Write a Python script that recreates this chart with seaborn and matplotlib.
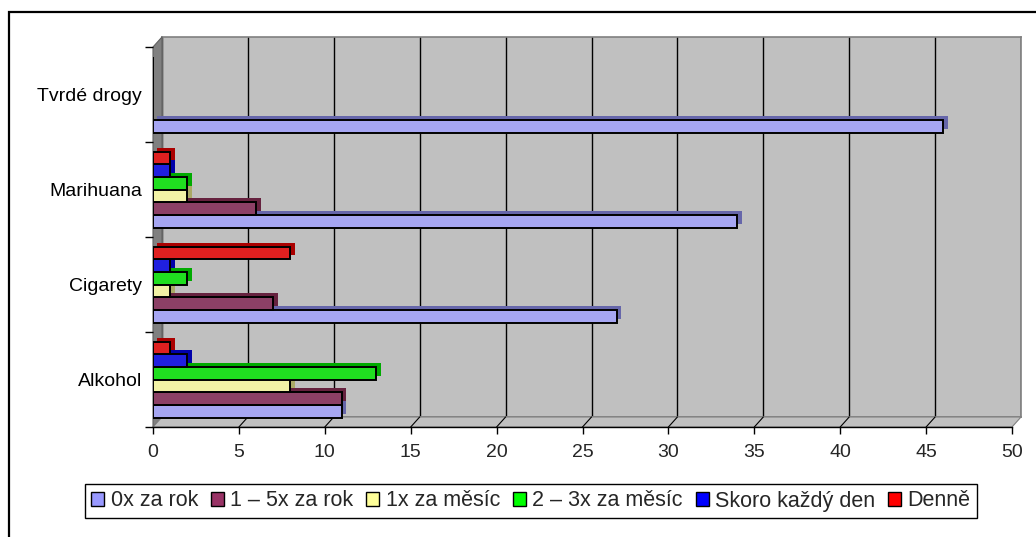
import matplotlib
matplotlib.use("Agg")
import matplotlib.pyplot as plt
import matplotlib.patheffects as pe
from matplotlib.patches import Polygon, Rectangle, Patch
from matplotlib.lines import Line2D
import seaborn as sns
import pandas as pd
import numpy as np

categories = ["Alkohol", "Cigarety", "Marihuana", "Tvrdé drogy"]
series = ["0x za rok", "1 – 5x za rok", "1x za měsíc", "2 – 3x za měsíc", "Skoro každý den", "Denně"]
v_0x_rok = [11, 27, 34, 46]
v_1_5x_rok = [11, 7, 6, 0]
v_1x_mesic = [8, 1, 2, 0]
v_2_3x_mesic = [13, 2, 2, 0]
v_skoro_denne = [2, 1, 1, 0]
v_denne = [1, 8, 1, 0]
colors = ["#9999FF", "#993366", "#FFFF99", "#00FF00", "#0000FF", "#FF0000"]
side_colors = ["#6666AA", "#66223F", "#AAAA66", "#00AA00", "#0000AA", "#AA0000"]
x_ticks = [0, 5, 10, 15, 20, 25, 30, 35, 40, 45, 50]

values = [v_0x_rok, v_1_5x_rok, v_1x_mesic, v_2_3x_mesic, v_skoro_denne, v_denne]
rows = []
for s, vals in zip(series, values):
    for c, v in zip(categories, vals):
        rows.append({"kategorie": c, "serie": s, "hodnota": v})
df = pd.DataFrame(rows)

sns.set_theme(style="white")
plt.rcParams["font.family"] = ["Liberation Sans", "DejaVu Sans"]

W, H = 1036, 537
fig = plt.figure(figsize=(W / 100, H / 100), dpi=100)
fig.patch.set_facecolor("white")

def fx(px):
    return px / W

def fy(py):
    return 1 - py / H

# geometry (pixels)
fl, fr, ft, fb = 153, 1012, 47, 427     # front plane
dx, dy = 9, 10                          # depth offset
bl, br, bt, bb = fl + dx, fr + dx, ft - dy, fb - dy  # back wall

# outer border
fig.patches.append(Rectangle((fx(9), -0.2), 1.2, fy(12) + 0.2, transform=fig.transFigure,
                             fill=False, edgecolor="black", linewidth=1.6, zorder=0.5, clip_on=False))

# back wall
axb = fig.add_axes([fx(bl), fy(bb), fx(br - bl), (bb - bt) / H])
axb.set_facecolor("#C0C0C0")
axb.set_xlim(0, 50)
axb.set_ylim(0, 1)
axb.set_xticks(x_ticks)
axb.set_yticks([])
axb.tick_params(axis="x", length=0, labelbottom=False)
axb.grid(axis="x", color="black", linewidth=1.0)
for sp in axb.spines.values():
    sp.set_color("#808080")
    sp.set_linewidth(1.2)
axb.set_zorder(0)

# left wall and floor
fig.patches.append(Polygon([(fx(fl), fy(fb)), (fx(fl), fy(ft)), (fx(bl), fy(bt)), (fx(bl), fy(bb))],
                           closed=True, transform=fig.transFigure, facecolor="#808080",
                           edgecolor="#606060", linewidth=0.8, zorder=1))
fig.patches.append(Polygon([(fx(fl), fy(fb)), (fx(bl), fy(bb)), (fx(br), fy(bb)), (fx(fr), fy(fb))],
                           closed=True, transform=fig.transFigure, facecolor="#C0C0C0",
                           edgecolor="#808080", linewidth=0.8, zorder=1))
for t in x_ticks[1:-1]:
    xpx = fl + (fr - fl) * t / 50
    fig.lines.append(Line2D([fx(xpx), fx(xpx + dx)], [fy(fb), fy(bb)], transform=fig.transFigure,
                            color="black", linewidth=0.8, zorder=1.1))

# front axes with bars
ax = fig.add_axes([fx(fl), fy(fb), fx(fr - fl), (fb - ft) / H])
ax.set_zorder(2)
ax.patch.set_alpha(0)
sns.barplot(data=df, y="kategorie", x="hodnota", hue="serie", order=categories,
            hue_order=series, palette=colors, orient="h", width=0.8, dodge=True,
            edgecolor="black", linewidth=1.4, legend=False, ax=ax)
for i, cont in enumerate(ax.containers):
    for bar in cont:
        bar.set_path_effects([pe.SimplePatchShadow(offset=(3.2, 2.8), shadow_rgbFace=side_colors[i],
                                                   alpha=1.0), pe.Normal()])
ax.set_xlim(0, 50)
ax.set_ylim(-0.5, 3.5)
ax.set_xticks(x_ticks)
ax.set_xticklabels([str(t) for t in x_ticks])
ax.set_xlabel("")
ax.set_ylabel("")
ax.set_yticks(range(len(categories)))
ax.set_yticklabels(categories)
ax.set_yticks(np.arange(-0.5, 4, 1), minor=True)
ax.tick_params(axis="y", which="major", length=0, pad=8, labelsize=14, colors="black")
ax.tick_params(axis="y", which="minor", length=6, width=1, color="black", direction="out", left=True)
ax.tick_params(axis="x", length=5, width=1, color="black", direction="out", pad=7,
               labelsize=14, bottom=True)
for s in ["top", "right"]:
    ax.spines[s].set_visible(False)
ax.spines["left"].set_visible(False)
ax.spines["bottom"].set_color("black")
ax.spines["bottom"].set_linewidth(1.0)
ax.grid(False)

handles = [Patch(facecolor=c, edgecolor="black", linewidth=1.0, label=s) for c, s in zip(colors, series)]
fig.legend(handles=handles, loc="center", bbox_to_anchor=(fx(531), fy(501)), ncol=6, frameon=True,
           fancybox=False, edgecolor="black", fontsize=15.5, handlelength=0.6, handleheight=0.6,
           handletextpad=0.3, columnspacing=0.6, borderpad=0.3, framealpha=1)
leg = fig.legends[0]
leg.get_frame().set_linewidth(1.0)

fig.savefig("out.png", dpi=100)
